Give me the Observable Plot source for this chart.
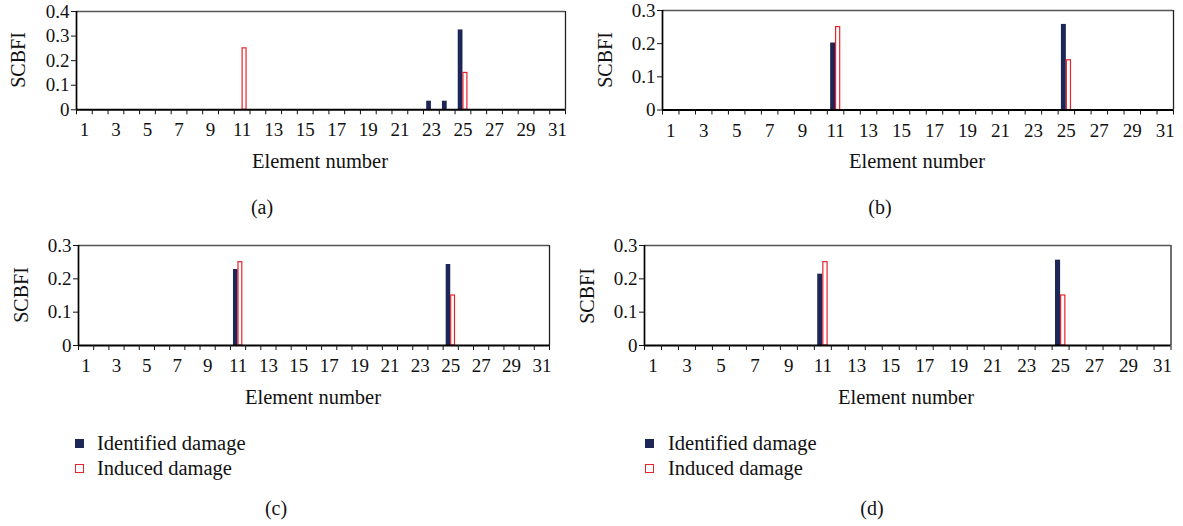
<!DOCTYPE html>
<html><head><meta charset="utf-8">
<script src="https://cdn.jsdelivr.net/npm/d3@7"></script>
<script src="https://cdn.jsdelivr.net/npm/@observablehq/plot@0.6"></script>
<style>
body{margin:0;background:#fff;width:1183px;height:526px;position:relative;overflow:hidden;font-family:"Liberation Serif",serif;color:#111}
.abs{position:absolute}
.t{position:absolute;transform:translate(-50%,-50%);white-space:nowrap;line-height:1}
.rot{position:absolute;transform:translate(-50%,-50%) rotate(-90deg);white-space:nowrap;line-height:1}
.sq{position:absolute;box-sizing:border-box;width:9px;height:9px}
.lg{position:absolute;transform:translateY(-50%);white-space:nowrap;line-height:1;font-size:20.5px}
</style></head><body>
<script>
// ---- data ----
const elements = [1,2,3,4,5,6,7,8,9,10,11,12,13,14,15,16,17,18,19,20,21,22,23,24,25,26,27,28,29,30,31];
const tickLabels = [1,3,5,7,9,11,13,15,17,19,21,23,25,27,29,31];
const induced     = [0,0,0,0,0,0,0,0,0,0,0.25,0,0,0,0,0,0,0,0,0,0,0,0,0,0.15,0,0,0,0,0,0];
const identifiedA = [0,0,0,0,0,0,0,0,0,0,0,0,0,0,0,0,0,0,0,0,0,0,0.035,0.035,0.325,0,0,0,0,0,0];
const identifiedB = [0,0,0,0,0,0,0,0,0,0,0.202,0,0,0,0,0,0,0,0,0,0,0,0,0,0.258,0,0,0,0,0,0];
const identifiedC = [0,0,0,0,0,0,0,0,0,0,0.228,0,0,0,0,0,0,0,0,0,0,0,0,0,0.243,0,0,0,0,0,0];
const identifiedD = [0,0,0,0,0,0,0,0,0,0,0.214,0,0,0,0,0,0,0,0,0,0,0,0,0,0.256,0,0,0,0,0,0];
const yTicksA = [0,0.1,0.2,0.3,0.4];
const yTicksBCD = [0,0.1,0.2,0.3];
const seriesNames = ["Identified damage","Induced damage"];
const captions = ["(a)","(b)","(c)","(d)"];

const NAVY = "#1d2757", RED = "#e8232b";

const panels = [
  {identified: identifiedA, yTicks: yTicksA, left:76, top:11, right:565, bottom:109.3, cap:[262,207], title:[320,161], ylab:[18,60]},
  {identified: identifiedB, yTicks: yTicksBCD, left:662, top:9.5, right:1173, bottom:109, cap:[880,207], title:[917,161], ylab:[605,60]},
  {identified: identifiedC, yTicks: yTicksBCD, left:78, top:245, right:549, bottom:345, cap:[276,508], title:[313,397], ylab:[21,295]},
  {identified: identifiedD, yTicks: yTicksBCD, left:643.5, top:244.5, right:1170, bottom:344.5, cap:[872,508], title:[906,397], ylab:[587,296]}
];

function addText(cls, txt, x, y, size) {
  const d = document.createElement("div");
  d.className = cls; d.textContent = txt;
  d.style.left = x + "px"; d.style.top = y + "px"; d.style.fontSize = size + "px";
  document.body.appendChild(d);
  return d;
}

const boundaries = elements.map(e => e - 0.5).concat([elements[elements.length-1] + 0.5]);

panels.forEach((cfg, k) => {
  const ML = 60, MT = 11, MR = 12, MB = 40;
  const w = cfg.right - cfg.left + ML + MR;
  const h = cfg.bottom - cfg.top + MT + MB;
  const yMax = cfg.yTicks[cfg.yTicks.length - 1];
  const idData = elements.map((e, i) => ({e, v: cfg.identified[i]})).filter(d => d.v > 0);
  const inData = elements.map((e, i) => ({e, v: induced[i]})).filter(d => d.v > 0);
  const chart = Plot.plot({
    width: w, height: h, marginLeft: ML, marginTop: MT, marginRight: MR, marginBottom: MB,
    style: {fontFamily: "Liberation Serif", fontSize: "19px", color: "#111", background: "transparent", overflow: "visible"},
    x: {domain: [0.5, 31.5]},
    y: {domain: [0, yMax]},
    marks: [
      Plot.rect(idData, {x1: d => d.e - 0.3, x2: d => d.e, y1: 0, y2: "v", fill: NAVY}),
      Plot.rect(inData, {x1: d => d.e + 0.03, x2: d => d.e + 0.28, y1: 0, y2: "v", fill: "white", stroke: RED, strokeWidth: 1.2}),
      Plot.ruleY([yMax], {stroke: "#555", strokeWidth: 1.3}),
      Plot.ruleX([31.5], {stroke: "#222", strokeWidth: 1.3}),
      Plot.ruleX([0.5], {stroke: "#000", strokeWidth: 1.7}),
      Plot.ruleY([0], {stroke: "#000", strokeWidth: 2}),
      Plot.axisY({ticks: cfg.yTicks, tickSize: 5, tickPadding: 2, tickFormat: d => d === 0 ? "0" : d.toFixed(1), label: null}),
      Plot.axisX({ticks: boundaries, tickSize: 5, tickFormat: () => "", label: null}),
      Plot.axisX({ticks: tickLabels, tickSize: 0, tickPadding: 13, tickFormat: d => String(d), label: null})
    ]
  });
  chart.classList.add("abs");
  chart.style.left = (cfg.left - ML) + "px";
  chart.style.top = (cfg.top - MT) + "px";
  document.body.appendChild(chart);

  addText("t", "Element number", cfg.title[0], cfg.title[1], 20.5);
  addText("rot", "SCBFI", cfg.ylab[0], cfg.ylab[1], 20);
  addText("t", captions[k], cfg.cap[0], cfg.cap[1], 20);
});

// legends below panels (c) and (d)
[[75, 97], [645, 668]].forEach(([sx, tx]) => {
  const s1 = document.createElement("div");
  s1.className = "sq"; s1.style.left = sx + "px"; s1.style.top = "439px"; s1.style.background = NAVY;
  document.body.appendChild(s1);
  const s2 = document.createElement("div");
  s2.className = "sq"; s2.style.left = sx + "px"; s2.style.top = "464px"; s2.style.border = "1.3px solid " + RED; s2.style.background = "#fff";
  document.body.appendChild(s2);
  addText("lg", seriesNames[0], tx, 443, 20.5);
  addText("lg", seriesNames[1], tx, 468, 20.5);
});
</script>
</body></html>
